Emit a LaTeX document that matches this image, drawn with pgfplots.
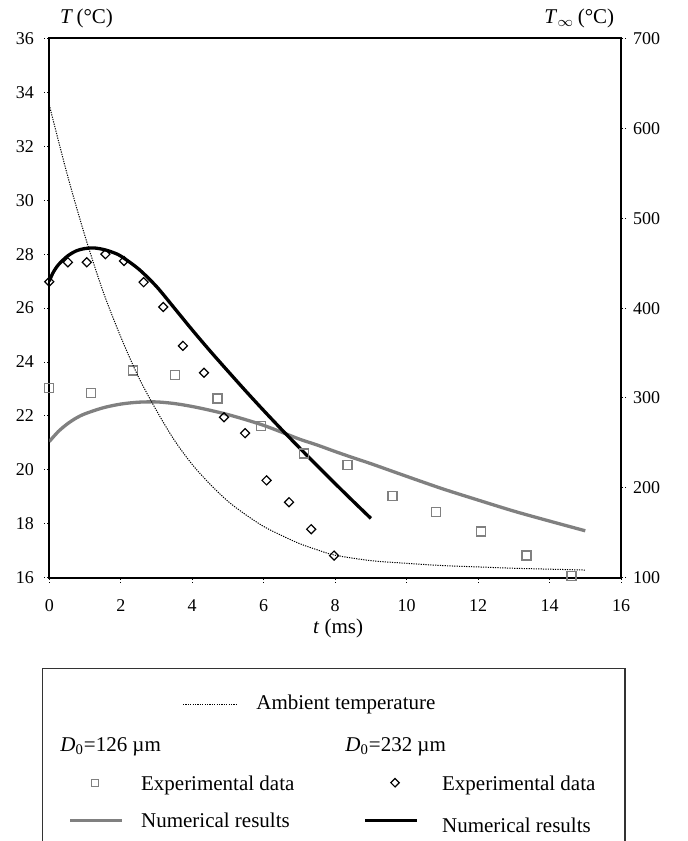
\documentclass[border=0pt]{standalone}
\usepackage{pgfplots}
\pgfplotsset{compat=1.18}
\usepackage{fontspec}
\setmainfont{Liberation Serif}

\pgfplotstableread{
t T
0 23.04
1.17 22.86
2.34 23.68
3.52 23.51
4.71 22.65
5.92 21.62
7.12 20.61
8.35 20.17
9.60 19.02
10.83 18.43
12.08 17.71
13.35 16.82
14.62 16.07
}\expsmall

\pgfplotstableread{
t T
0 26.98
0.52 27.70
1.05 27.70
1.57 28.00
2.09 27.75
2.64 26.96
3.19 26.04
3.74 24.60
4.33 23.60
4.89 21.95
5.48 21.36
6.08 19.61
6.71 18.80
7.33 17.80
7.97 16.82
}\explarge

\pgfplotstableread{
t T
0 21.05
0.25 21.42
0.5 21.70
0.75 21.92
1.0 22.08
1.5 22.30
2.0 22.44
2.5 22.51
3.0 22.52
3.5 22.46
4.0 22.35
4.5 22.21
5.0 22.05
5.5 21.86
6.0 21.65
6.5 21.40
7.0 21.14
7.5 20.92
8.0 20.68
8.5 20.45
9.0 20.23
10.0 19.76
11.0 19.30
12.0 18.88
13.0 18.47
14.0 18.10
15.0 17.74
}\numsmall

\pgfplotstableread{
t T
0 27.00
0.1 27.30
0.25 27.60
0.5 27.92
0.75 28.12
1.0 28.21
1.25 28.23
1.5 28.18
1.75 28.08
2.0 27.93
2.5 27.45
3.0 26.80
3.5 26.00
4.0 25.19
4.5 24.41
5.0 23.66
5.5 22.92
6.0 22.20
6.5 21.50
7.0 20.82
7.5 20.15
8.0 19.49
8.5 18.84
9.0 18.20
}\numlarge

\pgfplotstableread{
t Tinf
0 626
0.5 549
1.0 480
1.5 419
2.0 368
2.5 323
3.0 286
3.5 253
4.0 226
4.5 204
5.0 185
5.5 170
6.0 157
6.5 147
7.0 138
7.5 131
8.0 125
9.0 119
10.0 116
11.0 113.5
12.0 112
13.0 110.5
14.0 109.5
15.0 108.5
}\ambient

\begin{document}
\begin{tikzpicture}
\useasboundingbox (-24.65pt,-131.65pt) rectangle (319.35pt,288.85pt);
\pgfplotsset{every axis/.append style={
  scale only axis, width=285.85pt, height=269.6pt,
  xmin=0, xmax=16,
  /pgf/number format/assume math mode=true,
  tick label style={font=\fontsize{9}{10.8}\selectfont},
  tick align=outside, major tick length=2.5pt,
  tick style={black, line width=0.5pt, densely dotted},
  axis line style={line width=1pt, black}
}}
\begin{axis}[
  ymin=16, ymax=36,
  ytick={16,18,...,36}, xtick={0,2,...,16},
  xtick pos=bottom, ytick pos=left,
  xticklabel style={yshift=-5pt},
  yticklabel style={xshift=-1.7pt},
]
\addplot[gray, line width=1.65pt, smooth] table[x=t,y=T] {\numsmall};
\addplot[black, line width=1.65pt, smooth] table[x=t,y=T] {\numlarge};
\addplot[only marks, mark=square, mark size=2.25pt, gray, mark options={line width=0.7pt}] table[x=t,y=T] {\expsmall};
\addplot[only marks, mark=square, mark size=1.6pt, black, mark options={rotate=45, line width=0.6pt}] table[x=t,y=T] {\explarge};
\end{axis}
\begin{axis}[
  ymin=100, ymax=700,
  ytick={100,200,...,700},
  axis x line=none, axis y line*=right,
]
\addplot[black, line width=0.5pt, dash pattern=on 0.6pt off 0.6pt, smooth] table[x=t,y=Tinf] {\ambient};
\end{axis}

\begin{scope}[font=\fontsize{10.5}{12.6}\selectfont]
\node at (144.35pt,-25.15pt) {\textit{t} (ms)};
\node at (18.6pt,279.85pt) {\textit{T}\,(°C)};
\node at (265pt,279.85pt) {\textit{T}$_\infty$\,(°C)};
% legend box (open at bottom)
\draw[line width=0.6pt, black!80] (-3.3pt,-133pt) -- (-3.3pt,-45.3pt) -- (287.85pt,-45.3pt) -- (287.85pt,-133pt);
\draw[black, line width=0.5pt, dash pattern=on 0.6pt off 0.6pt] (66.85pt,-63.15pt) -- (93.85pt,-63.15pt);
\node[anchor=west, inner sep=0pt] at (103.35pt,-63.15pt) {Ambient temperature};
\node[anchor=west, inner sep=0pt] at (5.35pt,-84.5pt) {\textit{D}\textsubscript{0}=126 µm};
\node[anchor=west, inner sep=0pt] at (147.85pt,-84.5pt) {\textit{D}\textsubscript{0}=232 µm};
\draw[gray, line width=0.5pt] (21.1pt,-104.25pt) rectangle (24.6pt,-100.75pt);
\node[anchor=west, inner sep=0pt] at (45.7pt,-103.65pt) {Experimental data};
\draw[black, line width=0.6pt] (172.85pt,-100.4pt) -- (174.95pt,-102.5pt) -- (172.85pt,-104.6pt) -- (170.75pt,-102.5pt) -- cycle;
\node[anchor=west, inner sep=0pt] at (196.2pt,-103.65pt) {Experimental data};
\draw[gray, line width=1.65pt] (10.35pt,-121.5pt) -- (36.2pt,-121.5pt);
\node[anchor=west, inner sep=0pt] at (45.7pt,-121.5pt) {Numerical results};
\draw[black, line width=1.65pt] (157.85pt,-121.5pt) -- (183.7pt,-121.5pt);
\node[anchor=west, inner sep=0pt] at (196.2pt,-123.65pt) {Numerical results};
\end{scope}
\end{tikzpicture}
\end{document}
